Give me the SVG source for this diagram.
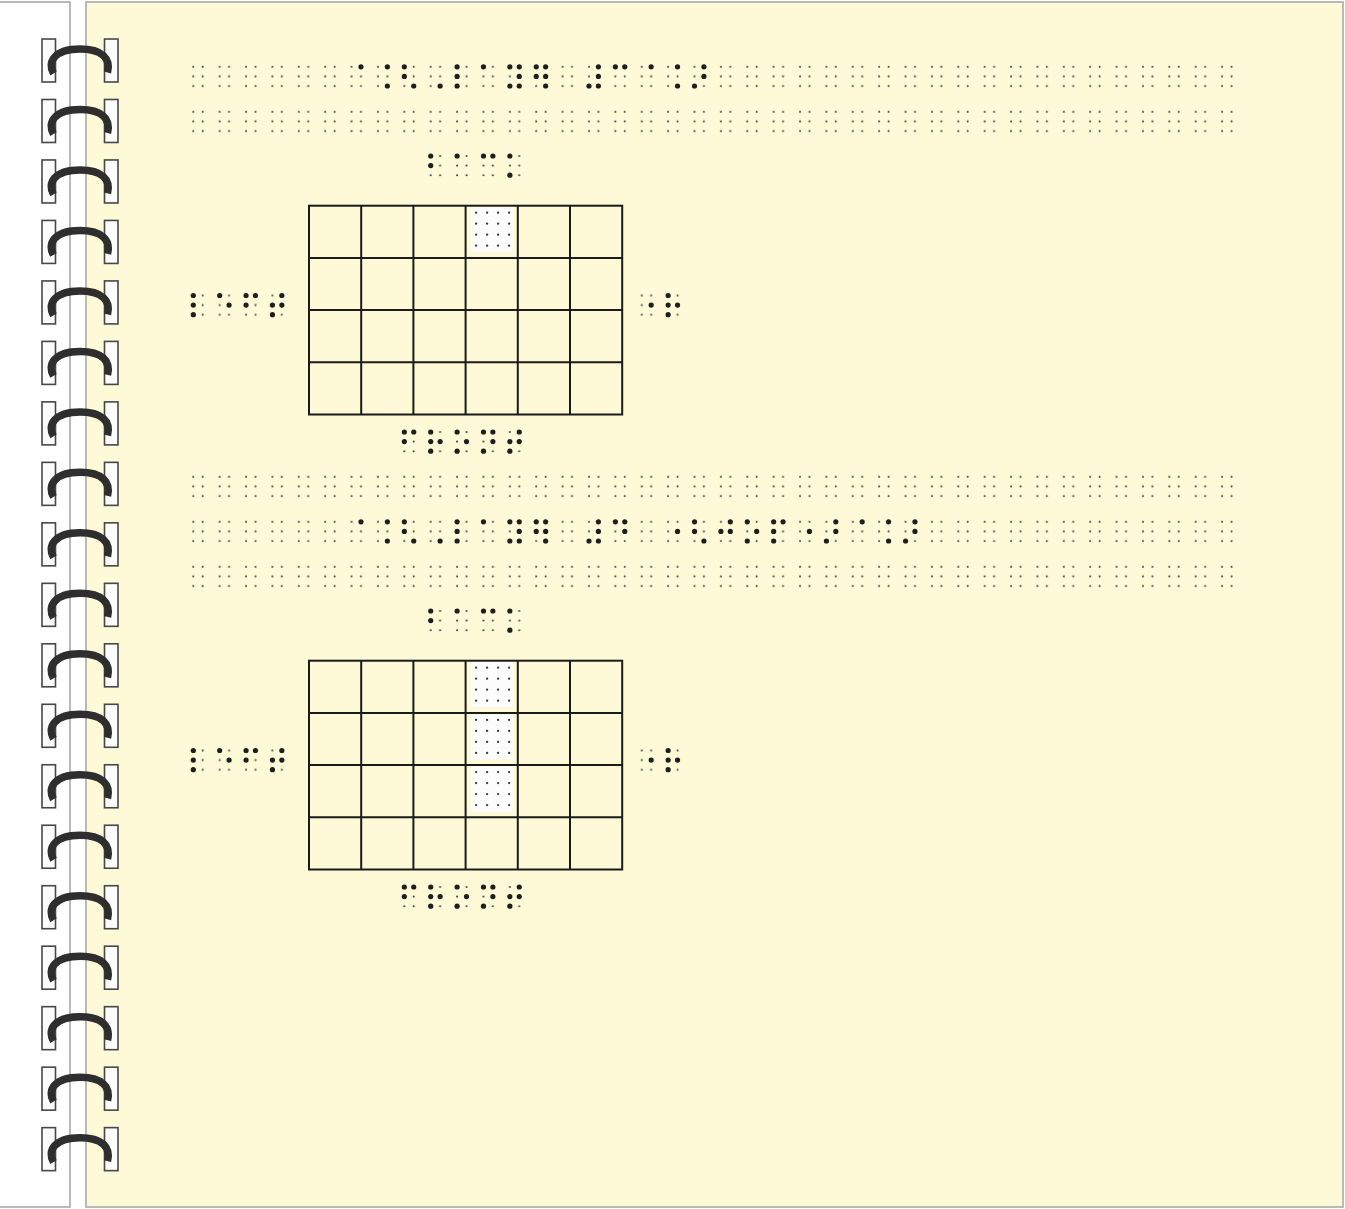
<svg xmlns="http://www.w3.org/2000/svg" xmlns:xlink="http://www.w3.org/1999/xlink" width="1345" height="1209" viewBox="0 0 1345 1209">
<style>
.pg{stroke:#a9a9a9;stroke-width:1.6}
.hole{fill:#fbfbfb;stroke:#474747;stroke-width:1.6}
.coil{fill:none;stroke:#2e2e2e;stroke-width:7.5}
.grid{fill:none;stroke:#1b1b1b;stroke-width:2}
.bd{fill:#1e1e1e}
.ed{fill:#474747}
.hd{fill:#333}
</style>
<defs>
<pattern id="ep" patternUnits="userSpaceOnUse" x="190.3" y="-3" width="26.38" height="26">
<circle class="ed" cx="3" cy="3" r="1.05"/><circle class="ed" cx="3" cy="12.6" r="1.05"/><circle class="ed" cx="3" cy="22.2" r="1.05"/>
<circle class="ed" cx="12.4" cy="3" r="1.05"/><circle class="ed" cx="12.4" cy="12.6" r="1.05"/><circle class="ed" cx="12.4" cy="22.2" r="1.05"/>
</pattern>
<circle id="d1" class="bd" cx="0" cy="0" r="2.6"/>
<circle id="d2" class="bd" cx="0" cy="9.6" r="2.6"/>
<circle id="d3" class="bd" cx="0" cy="19.2" r="2.6"/>
<circle id="d4" class="bd" cx="9.4" cy="0" r="2.6"/>
<circle id="d5" class="bd" cx="9.4" cy="9.6" r="2.6"/>
<circle id="d6" class="bd" cx="9.4" cy="19.2" r="2.6"/>
<g id="b1"><use href="#d1"/></g>
<g id="b4"><use href="#d4"/></g>
<g id="b5"><use href="#d5"/></g>
<g id="b6"><use href="#d6"/></g>
<g id="b12"><use href="#d1"/><use href="#d2"/></g>
<g id="b13"><use href="#d1"/><use href="#d3"/></g>
<g id="b14"><use href="#d1"/><use href="#d4"/></g>
<g id="b15"><use href="#d1"/><use href="#d5"/></g>
<g id="b46"><use href="#d4"/><use href="#d6"/></g>
<g id="b123"><use href="#d1"/><use href="#d2"/><use href="#d3"/></g>
<g id="b124"><use href="#d1"/><use href="#d2"/><use href="#d4"/></g>
<g id="b126"><use href="#d1"/><use href="#d2"/><use href="#d6"/></g>
<g id="b135"><use href="#d1"/><use href="#d3"/><use href="#d5"/></g>
<g id="b145"><use href="#d1"/><use href="#d4"/><use href="#d5"/></g>
<g id="b245"><use href="#d2"/><use href="#d4"/><use href="#d5"/></g>
<g id="b345"><use href="#d3"/><use href="#d4"/><use href="#d5"/></g>
<g id="b1234"><use href="#d1"/><use href="#d2"/><use href="#d3"/><use href="#d4"/></g>
<g id="b1235"><use href="#d1"/><use href="#d2"/><use href="#d3"/><use href="#d5"/></g>
<g id="b1345"><use href="#d1"/><use href="#d3"/><use href="#d4"/><use href="#d5"/></g>
<g id="b2345"><use href="#d2"/><use href="#d3"/><use href="#d4"/><use href="#d5"/></g>
<g id="b3456"><use href="#d3"/><use href="#d4"/><use href="#d5"/><use href="#d6"/></g>
<g id="b13456"><use href="#d1"/><use href="#d3"/><use href="#d4"/><use href="#d5"/><use href="#d6"/></g>
<g id="b12456"><use href="#d1"/><use href="#d2"/><use href="#d4"/><use href="#d5"/><use href="#d6"/></g>
<g id="hl">
<rect x="5.5" y="1.5" width="41.5" height="45" fill="#fcfcfc"/>
<g class="hd">
<circle cx="10.5" cy="7" r="1.15"/><circle cx="21.5" cy="7" r="1.15"/><circle cx="32.5" cy="7" r="1.15"/><circle cx="43.5" cy="7" r="1.15"/>
<circle cx="10.5" cy="18" r="1.15"/><circle cx="21.5" cy="18" r="1.15"/><circle cx="32.5" cy="18" r="1.15"/><circle cx="43.5" cy="18" r="1.15"/>
<circle cx="10.5" cy="29" r="1.15"/><circle cx="21.5" cy="29" r="1.15"/><circle cx="32.5" cy="29" r="1.15"/><circle cx="43.5" cy="29" r="1.15"/>
<circle cx="10.5" cy="40" r="1.15"/><circle cx="21.5" cy="40" r="1.15"/><circle cx="32.5" cy="40" r="1.15"/><circle cx="43.5" cy="40" r="1.15"/>
</g>
</g>
<g id="gridlines">
<rect class="grid" x="0" y="0" width="313.2" height="208.8"/>
<path class="grid" d="M52.2 0V208.8M104.4 0V208.8M156.6 0V208.8M208.8 0V208.8M261 0V208.8M0 52.2H313.2M0 104.4H313.2M0 156.6H313.2"/>
</g>
<g id="ring">
<rect class="hole" x="42" y="-21.5" width="13.5" height="43"/>
<rect class="hole" x="104.5" y="-21.5" width="13.5" height="43"/>
<path class="coil" d="M53.5 13C47 2 54 -11.5 80 -11.5C102 -11.5 111 -2 107.5 12"/>
</g>
</defs>

<g id="pages">
<rect class="pg" x="-2" y="2" width="72" height="1205" fill="#ffffff"/>
<rect class="pg" x="86" y="2" width="1257" height="1205" fill="#fef9d6"/>
</g>

<g id="binding">
<use href="#ring" y="60.5"/><use href="#ring" y="120.98"/><use href="#ring" y="181.46"/><use href="#ring" y="241.94"/>
<use href="#ring" y="302.42"/><use href="#ring" y="362.9"/><use href="#ring" y="423.38"/><use href="#ring" y="483.86"/>
<use href="#ring" y="544.34"/><use href="#ring" y="604.82"/><use href="#ring" y="665.3"/><use href="#ring" y="725.78"/>
<use href="#ring" y="786.26"/><use href="#ring" y="846.74"/><use href="#ring" y="907.22"/><use href="#ring" y="967.7"/>
<use href="#ring" y="1028.18"/><use href="#ring" y="1088.66"/><use href="#ring" y="1149.14"/>
</g>

<g id="text-line-1" transform="translate(0,66.8)">
<rect x="190.3" y="-3" width="1055.2" height="26" fill="url(#ep)"/>
<use href="#b4" x="351.58"/><use href="#b46" x="377.96"/><use href="#b126" x="404.34"/><use href="#b6" x="430.72"/>
<use href="#b123" x="457.1"/><use href="#b1" x="483.48"/><use href="#b13456" x="509.86"/><use href="#b12456" x="536.24"/>
<use href="#b3456" x="589"/><use href="#b14" x="615.38"/><use href="#b4" x="641.76"/><use href="#b46" x="668.14"/><use href="#b345" x="694.52"/>
</g>
<g id="text-line-2" transform="translate(0,111.8)">
<rect x="190.3" y="-3" width="1055.2" height="26" fill="url(#ep)"/>
</g>

<g id="diagram-1">
<g id="title-1" transform="translate(0,156)">
<rect x="427.72" y="-3" width="105.52" height="26" fill="url(#ep)"/>
<use href="#b12" x="430.72"/><use href="#b1" x="457.1"/><use href="#b14" x="483.48"/><use href="#b13" x="509.86"/>
</g>
<g id="grid-1">
<use href="#hl" x="465.6" y="205.7"/>
<use href="#gridlines" x="309" y="205.7"/>
</g>
<g id="left-1" transform="translate(0,295.5)">
<rect x="190.3" y="-3" width="105.52" height="26" fill="url(#ep)"/>
<use href="#b123" x="193.3"/><use href="#b15" x="219.68"/><use href="#b124" x="246.06"/><use href="#b2345" x="272.44"/>
</g>
<g id="right-1" transform="translate(0,295.5)">
<rect x="638.76" y="-3" width="52.76" height="26" fill="url(#ep)"/>
<use href="#b5" x="641.76"/><use href="#b1235" x="668.14"/>
</g>
<g id="bottom-1" transform="translate(0,432)">
<rect x="401.34" y="-3" width="131.9" height="26" fill="url(#ep)"/>
<use href="#b124" x="404.34"/><use href="#b1235" x="430.72"/><use href="#b135" x="457.1"/><use href="#b1345" x="483.48"/><use href="#b2345" x="509.86"/>
</g>
</g>

<g id="text-line-3" transform="translate(0,476.8)">
<rect x="190.3" y="-3" width="1055.2" height="26" fill="url(#ep)"/>
</g>
<g id="text-line-4" transform="translate(0,521.8)">
<rect x="190.3" y="-3" width="1055.2" height="26" fill="url(#ep)"/>
<use href="#b4" x="351.58"/><use href="#b46" x="377.96"/><use href="#b126" x="404.34"/><use href="#b6" x="430.72"/>
<use href="#b123" x="457.1"/><use href="#b1" x="483.48"/><use href="#b13456" x="509.86"/><use href="#b12456" x="536.24"/>
<use href="#b3456" x="589"/><use href="#b145" x="615.38"/>
<use href="#b5" x="668.14"/><use href="#b126" x="694.52"/><use href="#b245" x="720.9"/><use href="#b135" x="747.28"/><use href="#b1234" x="773.66"/>
<use href="#b5" x="800.04"/><use href="#b345" x="826.42"/><use href="#b4" x="852.8"/><use href="#b46" x="879.18"/><use href="#b345" x="905.56"/>
</g>
<g id="text-line-5" transform="translate(0,566.8)">
<rect x="190.3" y="-3" width="1055.2" height="26" fill="url(#ep)"/>
</g>

<g id="diagram-2">
<g id="title-2" transform="translate(0,611)">
<rect x="427.72" y="-3" width="105.52" height="26" fill="url(#ep)"/>
<use href="#b12" x="430.72"/><use href="#b1" x="457.1"/><use href="#b14" x="483.48"/><use href="#b13" x="509.86"/>
</g>
<g id="grid-2">
<use href="#hl" x="465.6" y="660.7"/>
<use href="#hl" x="465.6" y="712.9"/>
<use href="#hl" x="465.6" y="765.1"/>
<use href="#gridlines" x="309" y="660.7"/>
</g>
<g id="left-2" transform="translate(0,750.5)">
<rect x="190.3" y="-3" width="105.52" height="26" fill="url(#ep)"/>
<use href="#b123" x="193.3"/><use href="#b15" x="219.68"/><use href="#b124" x="246.06"/><use href="#b2345" x="272.44"/>
</g>
<g id="right-2" transform="translate(0,750.5)">
<rect x="638.76" y="-3" width="52.76" height="26" fill="url(#ep)"/>
<use href="#b5" x="641.76"/><use href="#b1235" x="668.14"/>
</g>
<g id="bottom-2" transform="translate(0,887)">
<rect x="401.34" y="-3" width="131.9" height="26" fill="url(#ep)"/>
<use href="#b124" x="404.34"/><use href="#b1235" x="430.72"/><use href="#b135" x="457.1"/><use href="#b1345" x="483.48"/><use href="#b2345" x="509.86"/>
</g>
</g>

<g id="connectors"/>
</svg>
